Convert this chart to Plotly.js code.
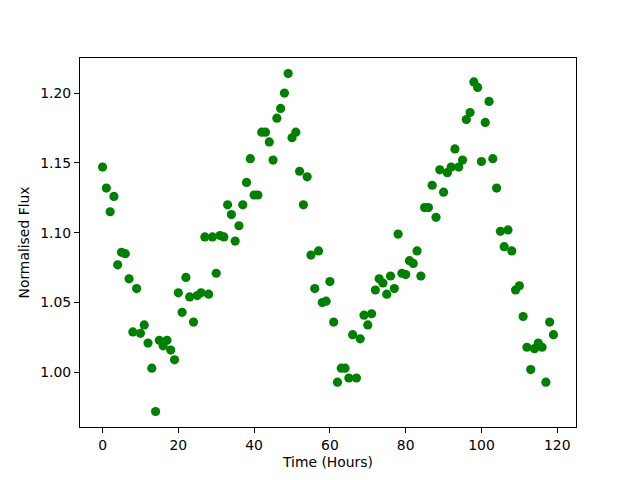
<!DOCTYPE html>
<html>
<head>
<meta charset="utf-8">
<script src="https://cdn.plot.ly/plotly-3.0.1.min.js"></script>
<style>html,body{margin:0;padding:0;background:#fff;}#chart{width:640px;height:480px;}</style>
</head>
<body>
<div id="chart"></div>
<script>
const hours = Array.from({length: 120}, (_, i) => i);
const flux = [
  1.147, 1.132, 1.115, 1.126, 1.077, 1.086, 1.085, 1.067, 1.029, 1.060,
  1.028, 1.034, 1.021, 1.003, 0.972, 1.023, 1.019, 1.023, 1.016, 1.009,
  1.057, 1.043, 1.068, 1.054, 1.036, 1.055, 1.057, 1.097, 1.056, 1.097,
  1.071, 1.098, 1.097, 1.120, 1.113, 1.094, 1.105, 1.120, 1.136, 1.153,
  1.127, 1.127, 1.172, 1.172, 1.165, 1.152, 1.182, 1.189, 1.200, 1.214,
  1.168, 1.172, 1.144, 1.120, 1.140, 1.084, 1.060, 1.087, 1.050, 1.051,
  1.065, 1.036, 0.993, 1.003, 1.003, 0.996, 1.027, 0.996, 1.024, 1.041,
  1.034, 1.042, 1.059, 1.067, 1.064, 1.056, 1.069, 1.060, 1.099, 1.071,
  1.070, 1.080, 1.078, 1.087, 1.069, 1.118, 1.118, 1.134, 1.111, 1.145,
  1.129, 1.143, 1.147, 1.160, 1.147, 1.152, 1.181, 1.186, 1.208, 1.204,
  1.151, 1.179, 1.194, 1.153, 1.132, 1.101, 1.090, 1.102, 1.087, 1.059,
  1.062, 1.040, 1.018, 1.002, 1.017, 1.021, 1.018, 0.993, 1.036, 1.027
];
const xLabel = 'Time (Hours)';
const yLabel = 'Normalised Flux';

const trace = {
  x: hours, y: flux, type: 'scatter', mode: 'markers',
  marker: {color: 'green', size: 9.2}
};
const fontSize = 13.9;
const axisBase = {
  showline: true, linecolor: 'black', linewidth: 1, mirror: true,
  ticks: 'outside', ticklen: 5, tickwidth: 1, tickcolor: 'black',
  showgrid: false, zeroline: false,
  tickfont: {family: 'DejaVu Sans', size: fontSize, color: 'black'}
};
const layout = {
  width: 640, height: 480,
  margin: {l: 80, r: 64, t: 58, b: 53},
  paper_bgcolor: 'white', plot_bgcolor: 'white',
  showlegend: false,
  font: {family: 'DejaVu Sans', size: fontSize, color: 'black'},
  xaxis: Object.assign({}, axisBase, {
    range: [-5.95, 124.95], tickvals: [0, 20, 40, 60, 80, 100, 120],
    title: {text: xLabel, font: {family: 'DejaVu Sans', size: fontSize}, standoff: 5}
  }),
  yaxis: Object.assign({}, axisBase, {
    range: [0.9609, 1.2251], tickvals: [1.00, 1.05, 1.10, 1.15, 1.20], tickformat: '.2f',
    title: {text: yLabel, font: {family: 'DejaVu Sans', size: fontSize}, standoff: 7}
  })
};
Plotly.newPlot('chart', [trace], layout, {displayModeBar: false, staticPlot: true});
</script>
</body>
</html>
